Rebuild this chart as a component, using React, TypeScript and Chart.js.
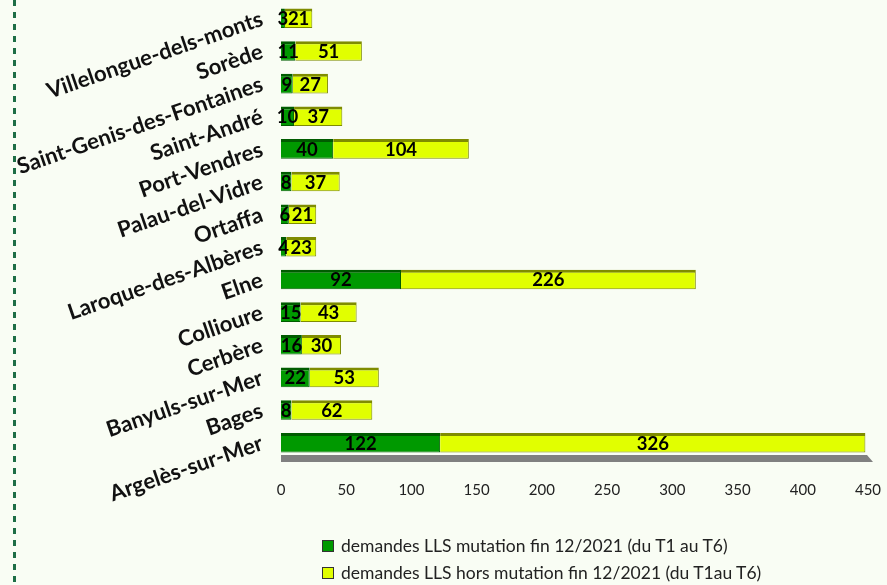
import React, { useEffect, useRef } from "react";
import { Chart, registerables } from "chart.js";

Chart.register(...registerables);

const categories = [
  "Villelongue-dels-monts",
  "Sorède",
  "Saint-Genis-des-Fontaines",
  "Saint-André",
  "Port-Vendres",
  "Palau-del-Vidre",
  "Ortaffa",
  "Laroque-des-Albères",
  "Elne",
  "Collioure",
  "Cerbère",
  "Banyuls-sur-Mer",
  "Bages",
  "Argelès-sur-Mer",
];
const mutation = [3, 11, 9, 10, 40, 8, 6, 4, 92, 15, 16, 22, 8, 122];
const horsMutation = [21, 51, 27, 37, 104, 37, 21, 23, 226, 43, 30, 53, 62, 326];
const seriesLabels = [
  "demandes LLS mutation fin 12/2021 (du T1 au T6)",
  "demandes LLS hors mutation fin 12/2021 (du T1au T6)",
];
const xMin = 0;
const xMax = 450;
const xStep = 50;

const GREEN = "#009900";
const YELLOW = "#E1FF00";
const BG = "#F9FDF4";
const FONT = "Lato, 'Open Sans', sans-serif";

const decorPlugin = {
  id: "decor",
  beforeDraw(chart: any) {
    const { ctx, width, height } = chart;
    ctx.save();
    ctx.fillStyle = BG;
    ctx.fillRect(0, 0, width, height);
    ctx.strokeStyle = "#1E6E46";
    ctx.lineWidth = 3;
    ctx.setLineDash([6, 6]);
    ctx.beginPath();
    ctx.moveTo(14.5, 0);
    ctx.lineTo(14.5, height);
    ctx.stroke();
    ctx.restore();
  },
  beforeDatasetsDraw(chart: any) {
    const { ctx, chartArea } = chart;
    const xs = chart.scales.x;
    const left = chartArea.left;
    const right = xs.getPixelForValue(xMax);
    const top = chartArea.bottom - 4;
    const bottom = chartArea.bottom + 3;
    ctx.save();
    ctx.fillStyle = "#808080";
    ctx.beginPath();
    ctx.moveTo(left, top);
    ctx.lineTo(right - 1, top);
    ctx.lineTo(right + 5, bottom);
    ctx.lineTo(left, bottom);
    ctx.closePath();
    ctx.fill();
    ctx.restore();
  },
  afterDatasetsDraw(chart: any) {
    const { ctx } = chart;
    ctx.save();
    ctx.font = `bold 18.5px ${FONT}`;
    ctx.fillStyle = "#000";
    ctx.textAlign = "center";
    ctx.textBaseline = "middle";
    chart.data.datasets.forEach((ds: any, di: number) => {
      const meta = chart.getDatasetMeta(di);
      meta.data.forEach((bar: any, i: number) => {
        const cx = (bar.x + bar.base) / 2;
        ctx.fillText(String(ds.data[i]), cx, bar.y + 1);
      });
    });
    ctx.restore();
  },
};

export default function App() {
  const canvasRef = useRef<HTMLCanvasElement | null>(null);

  useEffect(() => {
    if (!canvasRef.current) return;
    const chart = new Chart(canvasRef.current, {
      type: "bar",
      data: {
        labels: categories,
        datasets: [
          {
            label: seriesLabels[0],
            data: mutation,
            backgroundColor: GREEN,
            borderColor: "#005C00",
            borderWidth: { top: 3, right: 1, bottom: 1, left: 0 },
            borderSkipped: false,
          },
          {
            label: seriesLabels[1],
            data: horsMutation,
            backgroundColor: YELLOW,
            borderColor: "#7F8C00",
            borderWidth: { top: 3, right: 1, bottom: 1, left: 0 },
            borderSkipped: false,
          },
        ],
      },
      options: {
        indexAxis: "y",
        animation: false,
        responsive: true,
        maintainAspectRatio: false,
        layout: { padding: { left: 0, right: 19, top: 2, bottom: 0 } },
        datasets: { bar: { categoryPercentage: 1, barPercentage: 0.6 } },
        plugins: {
          legend: { display: false },
          tooltip: { enabled: false },
        },
        scales: {
          x: {
            stacked: true,
            min: xMin,
            max: xMax,
            grid: { display: false, drawTicks: false },
            border: { display: false },
            ticks: {
              stepSize: xStep,
              padding: 22,
              color: "#222",
              font: { family: FONT, size: 15 },
            },
            afterFit(scale: any) {
              scale.height = 126;
              scale.paddingLeft = 0;
              scale.paddingRight = 0;
            },
          },
          y: {
            stacked: true,
            grid: { display: false, drawTicks: false },
            border: { display: false },
            ticks: {
              minRotation: 19,
              maxRotation: 19,
              padding: 19,
              color: "#111",
              font: { family: FONT, size: 22, weight: "bold" },
              autoSkip: false,
            },
            afterFit(scale: any) {
              scale.width = 281;
              scale.paddingTop = 0;
              scale.paddingBottom = 0;
            },
          },
        },
      },
      plugins: [decorPlugin],
    });
    return () => chart.destroy();
  }, []);

  const legendColors = [GREEN, YELLOW];

  return (
    <div style={{ position: "fixed", left: 0, top: 0, width: 887, height: 585 }}>
      <canvas ref={canvasRef} />
      <div
        style={{
          position: "absolute",
          left: 322,
          top: 532,
          fontFamily: FONT,
          fontSize: 17.5,
          color: "#222",
          lineHeight: "27px",
        }}
      >
        {seriesLabels.map((l, i) => (
          <div key={i} style={{ display: "flex", alignItems: "center", whiteSpace: "nowrap" }}>
            <span
              style={{
                display: "inline-block",
                width: 10,
                height: 10,
                background: legendColors[i],
                border: "1px solid #333",
                marginRight: 7,
              }}
            />
            <span>{l}</span>
          </div>
        ))}
      </div>
    </div>
  );
}
